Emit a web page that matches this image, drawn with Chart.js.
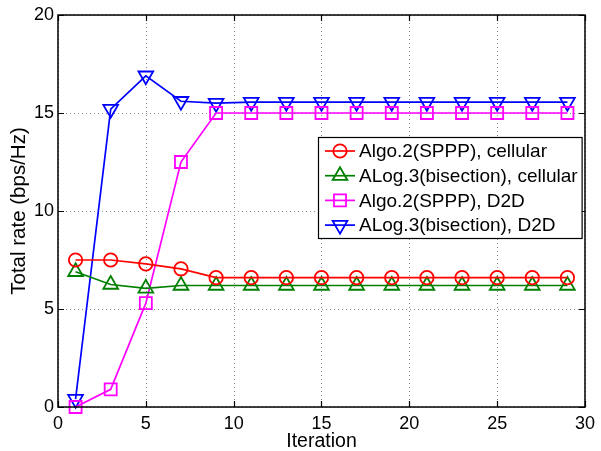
<!DOCTYPE html>
<html>
<head>
<meta charset="utf-8">
<script src="https://cdn.jsdelivr.net/npm/chart.js@4.4.0/dist/chart.umd.min.js"></script>
<style>
  html, body { margin: 0; padding: 0; background: #fff; }
  #wrap { width: 601px; height: 451px; }
</style>
</head>
<body>
<div id="wrap"><canvas id="rate"></canvas></div>
<script>
const iterations = [1, 3, 5, 7, 9, 11, 13, 15, 17, 19, 21, 23, 25, 27, 29];
const sppCellular = [7.5, 7.5, 7.3, 7.05, 6.6, 6.6, 6.6, 6.6, 6.6, 6.6, 6.6, 6.6, 6.6, 6.6, 6.6];
const bisCellular = [6.9, 6.25, 6.05, 6.2, 6.2, 6.2, 6.2, 6.2, 6.2, 6.2, 6.2, 6.2, 6.2, 6.2, 6.2];
const sppD2D = [0, 0.9, 5.3, 12.5, 15.0, 15.0, 15.0, 15.0, 15.0, 15.0, 15.0, 15.0, 15.0, 15.0, 15.0];
const bisD2D = [0.4, 15.2, 16.9, 15.6, 15.5, 15.55, 15.55, 15.55, 15.55, 15.55, 15.55, 15.55, 15.55, 15.55, 15.55];
const seriesNames = [
  'Algo.2(SPPP), cellular',
  'ALog.3(bisection), cellular',
  'Algo.2(SPPP), D2D',
  'ALog.3(bisection), D2D'
];

const FONT = '"Liberation Sans", Arial, Helvetica, sans-serif';

function pts(ys) {
  return ys.map((y, i) => ({ x: iterations[i], y: y }));
}

function series(label, ys, color, style, rot) {
  return {
    label: label,
    data: pts(ys),
    borderColor: color,
    backgroundColor: 'rgba(0,0,0,0)',
    borderWidth: 1.7,
    pointStyle: style,
    pointRotation: rot || 0,
    pointRadius: style === 'rect' ? 8.5 : (style === 'circle' ? 6.7 : 8.5),
    pointBorderWidth: 1.8,
    pointBackgroundColor: 'rgba(0,0,0,0)',
    tension: 0,
    clip: false
  };
}

// draw one marker at x,y in the legend
function marker(ctx, ds, x, y) {
  const r = ds.pointRadius;
  ctx.beginPath();
  if (ds.pointStyle === 'circle') {
    ctx.arc(x, y, r, 0, Math.PI * 2);
  } else if (ds.pointStyle === 'rect') {
    const s = Math.SQRT1_2 * r;
    ctx.rect(x - s, y - s, 2 * s, 2 * s);
  } else {
    const rad = (ds.pointRotation || 0) * Math.PI / 180;
    for (let k = 0; k < 3; k++) {
      const a = rad + k * 2 * Math.PI / 3;
      const px = x + Math.sin(a) * r;
      const py = y - Math.cos(a) * r;
      if (k === 0) ctx.moveTo(px, py); else ctx.lineTo(px, py);
    }
    ctx.closePath();
  }
  ctx.stroke();
}

// dotted grid under the lines
const dottedGrid = {
  id: 'dottedGrid',
  beforeDatasetsDraw(chart) {
    const { ctx, chartArea: a, scales } = chart;
    ctx.save();
    ctx.strokeStyle = '#8a8a8a';
    ctx.lineWidth = 1;
    ctx.setLineDash([1, 3]);
    ctx.beginPath();
    scales.x.ticks.forEach(t => {
      const px = Math.round(scales.x.getPixelForValue(t.value)) + 0.5;
      ctx.moveTo(px, a.top); ctx.lineTo(px, a.bottom);
    });
    scales.y.ticks.forEach(t => {
      const py = Math.round(scales.y.getPixelForValue(t.value)) + 0.5;
      ctx.moveTo(a.left, py); ctx.lineTo(a.right, py);
    });
    ctx.stroke();
    ctx.restore();
  }
};

// box around the plot, inward ticks and the legend
const frame = {
  id: 'frame',
  afterDatasetsDraw(chart) {
    const { ctx, chartArea: a, scales } = chart;
    ctx.save();
    ctx.strokeStyle = '#000';
    ctx.lineWidth = 1.2;
    ctx.beginPath();
    scales.x.ticks.forEach(t => {
      const px = Math.round(scales.x.getPixelForValue(t.value)) + 0.5;
      ctx.moveTo(px, a.bottom); ctx.lineTo(px, a.bottom - 6);
      ctx.moveTo(px, a.top); ctx.lineTo(px, a.top + 6);
    });
    scales.y.ticks.forEach(t => {
      const py = Math.round(scales.y.getPixelForValue(t.value)) + 0.5;
      ctx.moveTo(a.left, py); ctx.lineTo(a.left + 6, py);
      ctx.moveTo(a.right, py); ctx.lineTo(a.right - 6, py);
    });
    ctx.stroke();
    ctx.lineWidth = 1.5;
    ctx.strokeRect(a.left, a.top, a.right - a.left, a.bottom - a.top);

    // legend
    ctx.font = '19px ' + FONT;
    const sets = chart.data.datasets;
    let tw = 0;
    sets.forEach(ds => { tw = Math.max(tw, ctx.measureText(ds.label).width); });
    const rowH = 24.7;
    const w = tw + 45;
    const h = 101;
    const x0 = Math.round(a.right - 3 - w);
    const y0 = a.top + 122;
    ctx.fillStyle = '#fff';
    ctx.fillRect(x0, y0, w, h);
    ctx.lineWidth = 1.2;
    ctx.strokeStyle = '#000';
    ctx.strokeRect(x0 + 0.5, y0 + 0.5, w, h);
    sets.forEach((ds, i) => {
      const cy = y0 + 14 + i * rowH;
      ctx.strokeStyle = ds.borderColor;
      ctx.lineWidth = 1.7;
      ctx.beginPath();
      ctx.moveTo(x0 + 7, cy); ctx.lineTo(x0 + 37, cy);
      ctx.stroke();
      ctx.lineWidth = 1.8;
      marker(ctx, ds, x0 + 22, cy);
      ctx.fillStyle = '#000';
      ctx.textBaseline = 'middle';
      ctx.textAlign = 'left';
      ctx.fillText(ds.label, x0 + 41, cy + 1);
    });
    ctx.restore();
  }
};

new Chart(document.getElementById('rate'), {
  type: 'line',
  data: {
    datasets: [
      series(seriesNames[0], sppCellular, '#ff0000', 'circle'),
      series(seriesNames[1], bisCellular, '#008000', 'triangle'),
      series(seriesNames[2], sppD2D, '#ff00ff', 'rect'),
      series(seriesNames[3], bisD2D, '#0000ff', 'triangle', 180)
    ]
  },
  options: {
    responsive: true,
    maintainAspectRatio: false,
    animation: false,
    layout: { padding: { left: 7, right: 13, top: 15, bottom: 0 } },
    plugins: {
      legend: { display: false },
      tooltip: { enabled: false }
    },
    scales: {
      x: {
        type: 'linear',
        min: 0,
        max: 30,
        border: { display: false },
        grid: { display: false, drawTicks: false },
        ticks: { stepSize: 5, color: '#000', font: { family: FONT, size: 18 }, padding: 6, maxRotation: 0 },
        title: { display: true, text: 'Iteration', color: '#000', font: { family: FONT, size: 19.5 }, padding: { top: 0, bottom: -2 } },
        afterFit(s) { s.height = 44; }
      },
      y: {
        min: 0,
        max: 20,
        border: { display: false },
        grid: { display: false, drawTicks: false },
        ticks: { stepSize: 5, color: '#000', font: { family: FONT, size: 18 }, padding: 4 },
        title: { display: true, text: 'Total rate (bps/Hz)', color: '#000', font: { family: FONT, size: 20.5 }, padding: { top: 0, bottom: 0 } },
        afterFit(s) { s.width = 51; }
      }
    }
  },
  plugins: [dottedGrid, frame]
});
</script>
</body>
</html>
